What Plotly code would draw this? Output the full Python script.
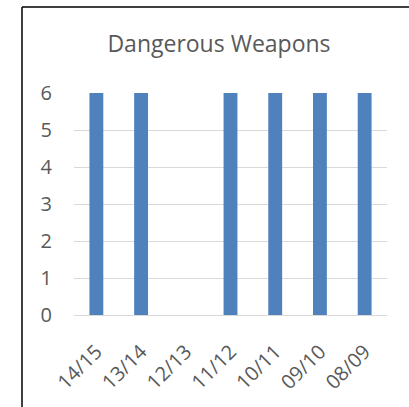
import plotly.graph_objects as go

categories = ["14/15", "13/14", "12/13", "11/12", "10/11", "09/10", "08/09"]
values = [6, 6, 0, 6, 6, 6, 6]
y_ticks = [0, 1, 2, 3, 4, 5, 6]

W, H = 409, 407
ml, mr, mt, mb = 74, 22, 93, 92
pw, ph = W - ml - mr, H - mt - mb

fig = go.Figure()
fig.add_trace(go.Bar(x=categories, y=values, marker=dict(color="#4F81BD", line=dict(width=0)),
                     width=0.31, hoverinfo="skip"))

font = "'Open Sans', sans-serif"
fig.update_layout(
    width=W, height=H,
    margin=dict(l=ml, r=mr, t=mt, b=mb),
    paper_bgcolor="white", plot_bgcolor="white",
    showlegend=False,
    title=dict(text="Dangerous Weapons", x=219 / W, xanchor="center",
               y=1 - 44 / H, yanchor="middle",
               font=dict(family=font, size=23, color="#595959")),
    xaxis=dict(type="category", tickangle=-45, showgrid=False, showline=False,
               ticks="", ticklabelstandoff=20,
               tickfont=dict(family=font, size=20, color="#595959")),
    yaxis=dict(range=[0, 6], tickvals=y_ticks, showgrid=True, gridcolor="#D9D9D9",
               gridwidth=1, zeroline=True, zerolinecolor="#D9D9D9", zerolinewidth=1,
               showline=False, ticks="", ticklabelstandoff=21,
               tickfont=dict(family=font, size=20, color="#595959")),
    shapes=[
        dict(type="line", xref="paper", yref="paper",
             x0=(22 - ml) / pw, x1=(W + 10 - ml) / pw,
             y0=(H - mb - 7) / ph, y1=(H - mb - 7) / ph,
             line=dict(color="black", width=1.5)),
        dict(type="line", xref="paper", yref="paper",
             x0=(22 - ml) / pw, x1=(22 - ml) / pw,
             y0=(H - mb - 7) / ph, y1=(-mb - 10) / ph,
             line=dict(color="black", width=1.5)),
    ],
)
fig.write_html("out.html", config={"displayModeBar": False})

with open("out.html", "r", encoding="utf-8") as f:
    html = f.read()
html = html.replace("<head>", "<head><style>html,body{margin:0;padding:0;overflow:hidden;}</style>", 1)
with open("out.html", "w", encoding="utf-8") as f:
    f.write(html)
